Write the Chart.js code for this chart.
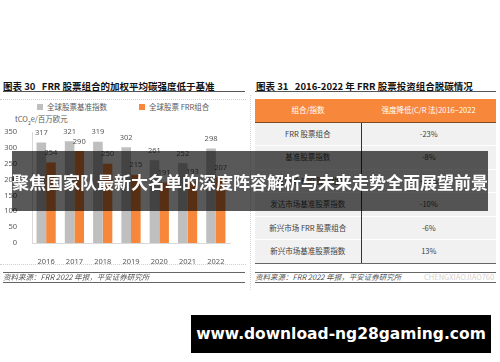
<!DOCTYPE html>
<html>
<head>
<meta charset="utf-8">
<script src="https://cdn.jsdelivr.net/npm/chart.js@4.4.1/dist/chart.umd.min.js"></script>
<style>
  body { margin: 0; width: 500px; height: 362px; background: #fff; position: relative; overflow: hidden;
         font-family: "Noto Sans CJK SC", "Noto Sans", sans-serif; color: #404040; }
  .abs { position: absolute; }
  .title { font-size: 9.5px; font-weight: bold; color: #111; white-space: nowrap; line-height: 12px; }
  .rule { height: 0; border-top: 1.5px solid #555; }
  .thin { height: 0; border-top: 1px solid #666; }
  .dots { height: 0; border-top: 1px dotted #cfcfcf; }
  .src { font-size: 7.5px; font-style: italic; color: #555; white-space: nowrap; line-height: 10px; }
  .legend { font-size: 7.5px; color: #595959; white-space: nowrap; line-height: 10px; }
  .legend i { display: inline-block; width: 6px; height: 6px; margin-right: 4px; vertical-align: 0px; }
  #wrap { left: 0; top: 98px; width: 250px; height: 168px; }
  table { border-collapse: collapse; font-size: 7.5px; color: #404040; table-layout: fixed; }
  th, td { padding: 0; box-sizing: border-box; text-align: center; line-height: 10px; }
  th { background: #f7873a; color: #fff; font-weight: normal; height: 23px; border-bottom: 1px solid #7a4a20; }
  td { background: #f1f1f1; height: 23.5px; border-top: 1px solid #fff; }
  td.c1 { border-right: 1px solid #333; }
  tr:last-child td { border-bottom: 1px solid #666; }
  #banner { left: 12px; top: 151px; width: 476px; height: 60px; background: rgba(0,0,0,0.65);
            color: #fff; font-size: 17px; font-weight: bold; text-align: center; line-height: 62px; white-space: nowrap; }
  #url { left: 191px; top: 315px; width: 300px; height: 38px; background: #000; color: #fff;
         font-family: "DejaVu Sans", sans-serif; font-size: 15.5px; font-weight: bold; text-align: center; line-height: 38px; }
</style>
</head>
<body>
<div class="abs title" style="left:3px;top:80px;">图表 30&nbsp;&nbsp; FRR 股票组合的加权平均碳强度低于基准</div>
<div class="abs rule" style="left:3px;top:91px;width:242px;"></div>
<div class="abs dots" style="left:0;top:99px;width:246px;"></div>
<div class="abs legend" style="left:37px;top:102px;"><i style="background:#bfbfbf"></i>全球股票基准指数</div>
<div class="abs legend" style="left:139px;top:102px;"><i style="background:#f7873a"></i>全球股票 FRR组合</div>
<div class="abs legend" style="left:15px;top:114px;">tCO<sub style="font-size:5px">2</sub>e/百万欧元</div>
<div class="abs" id="wrap"><canvas id="canvas-grafico-carbono"></canvas></div>
<div class="abs dots" style="left:0;top:264px;width:246px;"></div>
<div class="abs thin" style="left:3px;top:272px;width:242px;"></div>
<div class="abs src" style="left:3px;top:272px;">资料来源：FRR 2022 年报，平安证券研究所</div>
<div class="abs thin" style="left:3px;top:282px;width:242px;"></div>

<div class="abs" style="left:250px;top:95px;height:195px;border-left:1px dotted #d5d5d5;"></div>

<div class="abs title" style="left:256px;top:80px;">图表 31&nbsp;&nbsp; 2016-2022 年 FRR 股票投资组合脱碳情况</div>
<div class="abs rule" style="left:255px;top:91px;width:241px;"></div>
<table class="abs" id="tabla" style="left:255px;top:99px;width:241px;"></table>
<div class="abs thin" style="left:255px;top:272px;width:241px;"></div>
<div class="abs src" style="left:255px;top:272px;">资料来源：FRR 2022 年报，平安证券研究所</div>
<div class="abs src" style="left:424px;top:272px;font-style:normal;color:#d2d2d2;">CHENGXIAOJIAO760</div>
<div class="abs thin" style="left:255px;top:282px;width:241px;"></div>

<div class="abs" id="banner">聚焦国家队最新大名单的深度阵容解析与未来走势全面展望前景</div>
<div class="abs" id="url">www.download-ng28gaming.com</div>

<script>
const years = ["2016", "2017", "2018", "2019", "2020", "2021", "2022"];
const benchmark = [317, 321, 319, 302, 261, 252, 298];
const frr = [254, 290, 250, 215, 191, 193, 207];
const seriesNames = ["全球股票基准指数", "全球股票 FRR组合"];

const tableHeader = ["组合/指数", "强度降低(C/R 法)2016−2022"];
const tableRows = [
  "FRR 股票组合",
  "基准股票指数",
  "发达市场 FRR 股票组合",
  "发达市场基准股票指数",
  "新兴市场 FRR 股票组合",
  "新兴市场基准股票指数",
];
const tableValues = ["-23%", "-8%", "-25%", "-10%", "-6%", "13%"];

document.addEventListener("DOMContentLoaded", function () {
  createTabla();
  createGraficoCarbono();
});

function createTabla() {
  const tabla = document.getElementById("tabla");
  let html = "<tr><th style='width:106px'>" + tableHeader[0] + "</th><th>" + tableHeader[1] + "</th></tr>";
  tableRows.forEach((row, i) => {
    html += "<tr><td class='c1'>" + row + "</td><td>" + tableValues[i] + "</td></tr>";
  });
  tabla.innerHTML = html;
}

// valores encima de cada barra
const etiquetas = {
  id: "etiquetas",
  afterDatasetsDraw(chart) {
    const ctx = chart.ctx;
    ctx.save();
    ctx.font = "7.5px 'Noto Sans', sans-serif";
    ctx.fillStyle = "#595959";
    ctx.textAlign = "center";
    ctx.textBaseline = "middle";
    chart.data.datasets.forEach((ds, i) => {
      chart.getDatasetMeta(i).data.forEach((bar, j) => {
        ctx.fillText(ds.data[j], bar.x, bar.y - 9.5);
      });
    });
    ctx.restore();
  },
};

function createGraficoCarbono() {
  const data = {
    labels: years,
    datasets: [
      {
        label: seriesNames[0],
        data: benchmark,
        backgroundColor: "#bfbfbf",
        categoryPercentage: 0.68,
        barPercentage: 1.0,
      },
      {
        label: seriesNames[1],
        data: frr,
        backgroundColor: "#f7873a",
        categoryPercentage: 0.68,
        barPercentage: 1.0,
      },
    ],
  };

  const config = {
    type: "bar",
    data: data,
    options: {
      maintainAspectRatio: false,
      animation: false,
      layout: { padding: { top: 34, right: 20, bottom: 0, left: 0 } },
      plugins: { legend: { display: false }, tooltip: { enabled: false } },
      scales: {
        x: {
          grid: { display: false },
          border: { color: "#d9d9d9" },
          ticks: { color: "#595959", font: { size: 7.5, family: "Noto Sans" }, padding: 6 },
          afterFit: (scale) => { scale.height = 23; },
        },
        y: {
          min: 0,
          max: 350,
          grid: { display: false },
          border: { color: "#d9d9d9" },
          ticks: { stepSize: 50, color: "#595959", font: { size: 7.5, family: "Noto Sans" }, padding: 7 },
          afterFit: (scale) => { scale.width = 32; },
        },
      },
    },
    plugins: [etiquetas],
  };

  new Chart(document.getElementById("canvas-grafico-carbono"), config);
}
</script>
</body>
</html>
